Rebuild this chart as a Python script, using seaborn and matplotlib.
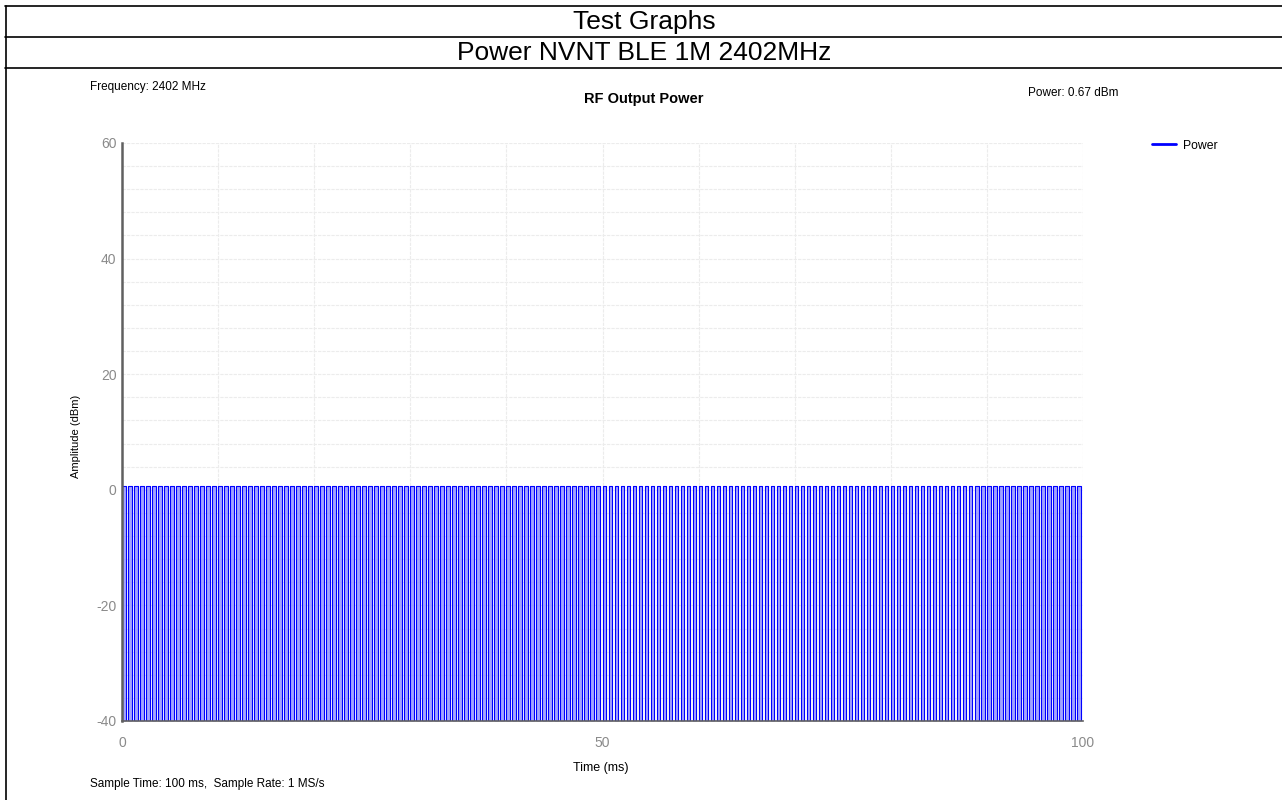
import numpy as np
import pandas as pd
import matplotlib
matplotlib.use('Agg')
import matplotlib.pyplot as plt
import seaborn as sns

# Values
header_title = 'Test Graphs'
header_subtitle = 'Power NVNT BLE 1M 2402MHz'
chart_title = 'RF Output Power'
freq_label = 'Frequency: 2402 MHz'
power_label = 'Power: 0.67 dBm'
sample_label = 'Sample Time: 100 ms,  Sample Rate: 1 MS/s'

sample_time_ms = 100.0
pulse_period_ms = 0.625    # BLE test packet interval
pulse_width_ms = 0.376     # burst on-time
peak_dbm = 0.67
floor_dbm = -40.0

x_ticks = [0, 50, 100]
y_ticks = [-40, -20, 0, 20, 40, 60]

# Square pulse train: each burst gives four corner points
starts = np.arange(0, sample_time_ms, pulse_period_ms)
ends = np.minimum(starts + pulse_width_ms, sample_time_ms)
t = np.column_stack([starts, starts, ends, ends]).ravel()
amp = np.tile([floor_dbm, peak_dbm, peak_dbm, floor_dbm], len(starts))
df = pd.DataFrame({'Time (ms)': t, 'Amplitude (dBm)': amp, 'series': 'Power'})

sns.set_style('white')
plt.rcParams['font.family'] = ['Liberation Sans', 'DejaVu Sans']
plt.rcParams['axes.unicode_minus'] = False
plt.rcParams['text.color'] = 'black'
plt.rcParams['axes.labelcolor'] = 'black'

fig = plt.figure(figsize=(12.82, 8.0), dpi=100)

# header table lines
W, H = 1282, 800
def fx(px): return px / W
def fy(py): return 1 - py / H
for yy in [6, 37, 68]:
    fig.add_artist(plt.Line2D([fx(5), 1.0], [fy(yy), fy(yy)], color='black', lw=1.2))
fig.add_artist(plt.Line2D([fx(5.5), fx(5.5)], [fy(6), 0], color='black', lw=1.2))
fig.text(fx(644), fy(22), header_title, ha='center', va='center', fontsize=19)
fig.text(fx(644), fy(53), header_subtitle, ha='center', va='center', fontsize=19)

ax = fig.add_axes([fx(122), fy(721), fx(1083) - fx(122), fy(143) - fy(721)])

ax.fill_between(t, amp, floor_dbm, color='#8c8cff', lw=0, alpha=0.8)
sns.lineplot(data=df, x='Time (ms)', y='Amplitude (dBm)', hue='series',
             palette=['#0000ff'], sort=False, estimator=None, lw=0.8, ax=ax)

ax.set_xlim(0, 100)
ax.set_ylim(-40, 60)
ax.set_xticks(x_ticks)
ax.set_yticks(y_ticks)
ax.set_xticks(np.arange(0, 101, 10), minor=True)
ax.set_yticks(np.arange(-40, 61, 4), minor=True)
ax.grid(True, which='both', color='#ececec', lw=0.8, ls=(0, (3, 1)))
ax.set_axisbelow(True)

for s in ['top', 'right']:
    ax.spines[s].set_visible(False)
ax.spines['left'].set_color('#606060')
ax.spines['left'].set_linewidth(1.8)
ax.spines['bottom'].set_color('#606060')
ax.spines['bottom'].set_linewidth(1.2)

ax.tick_params(axis='both', which='major', labelsize=10, labelcolor='#8a8a8a',
               color='#a0a0a0', length=3, width=0.8, pad=1)
ax.tick_params(axis='x', which='major', length=0, pad=11)
ax.tick_params(axis='both', which='minor', length=0)

ax.set_xlabel('Time (ms)', fontsize=9)
ax.set_ylabel('Amplitude (dBm)', fontsize=8)
ax.xaxis.set_label_coords((601 - 122) / (1083 - 122), -(762 - 721) / (721 - 143))
ax.yaxis.set_label_coords(-(122 - 81) / (1083 - 122), (721 - 436) / (721 - 143))

leg = ax.legend(loc='upper left', bbox_to_anchor=((1141 - 122) / (1083 - 122), 1.025),
                frameon=False, fontsize=8.8, handlelength=2.0, handletextpad=0.5)
for line in leg.get_lines():
    line.set_linewidth(2)

fig.text(fx(644), fy(99), chart_title, ha='center', va='center', fontsize=10.5, fontweight='bold')
fig.text(fx(90), fy(87), freq_label, ha='left', va='center', fontsize=8.5)
fig.text(fx(1028), fy(93), power_label, ha='left', va='center', fontsize=8.5)
fig.text(fx(90), fy(784), sample_label, ha='left', va='center', fontsize=8.5)

fig.savefig('out.png', dpi=100)
